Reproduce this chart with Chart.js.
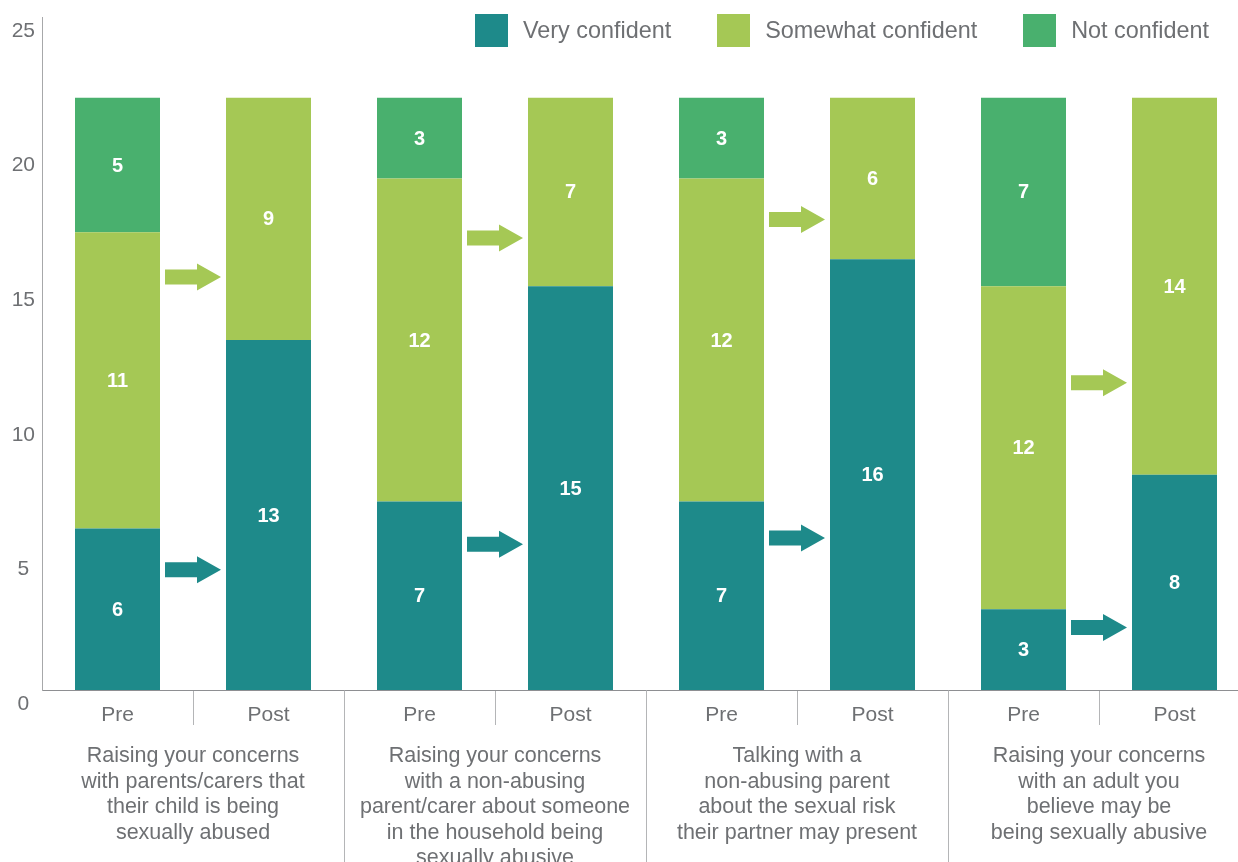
<!DOCTYPE html>
<html>
<head>
<meta charset="utf-8">
<script src="https://cdn.jsdelivr.net/npm/chart.js@4/dist/chart.umd.min.js"></script>
<style>
  html, body { margin: 0; padding: 0; background: #fff; overflow: hidden; }
  #wrap { position: relative; width: 1250px; height: 862px; }
  #legend {
    position: absolute; top: 14px; left: 475px;
    display: flex; align-items: center; white-space: nowrap;
    font-family: 'Liberation Sans', Arial, sans-serif; font-size: 23.4px; color: #6e7073;
  }
  .lg-item { display: flex; align-items: center; margin-right: 46px; flex: none; }
  .lg-box { width: 33px; height: 33px; margin-right: 15px; flex: none; }
</style>
</head>
<body>
<div id="wrap">
  <canvas id="chart" width="1250" height="862"></canvas>
  <div id="legend"></div>
</div>
<script>
// ---- data ----
const phases = ['Pre', 'Post', 'Pre', 'Post', 'Pre', 'Post', 'Pre', 'Post'];
const groupLabels = [
  ['Raising your concerns', 'with parents/carers that', 'their child is being', 'sexually abused'],
  ['Raising your concerns', 'with a non-abusing', 'parent/carer about someone', 'in the household being', 'sexually abusive'],
  ['Talking with a', 'non-abusing parent', 'about the sexual risk', 'their partner may present'],
  ['Raising your concerns', 'with an adult you', 'believe may be', 'being sexually abusive']
];
const veryConfident     = [6, 13, 7, 15, 7, 16, 3, 8];
const somewhatConfident = [11, 9, 12, 7, 12, 6, 12, 14];
const notConfident      = [5, 0, 3, 0, 3, 0, 7, 0];
const yTicks = [0, 5, 10, 15, 20, 25];

// arrow heights (value units) between Pre and Post of each group
const arrowVery     = [4.47, 5.41, 5.65, 2.32];
const arrowSomewhat = [15.34, 16.79, 17.48, 11.41];

const TEAL = '#1e8a8a';
const LIME = '#a5c855';
const GREEN = '#49b06e';
const TEXT = '#6e7073';
const FONT = "'Liberation Sans', Arial, sans-serif";

function drawArrow(ctx, cx, cy, color) {
  const len = 56, shaftH = 15, headL = 24, headH = 27;
  const x0 = cx - len / 2, x1 = cx + len / 2, xh = x1 - headL;
  ctx.fillStyle = color;
  ctx.beginPath();
  ctx.moveTo(x0, cy - shaftH / 2);
  ctx.lineTo(xh, cy - shaftH / 2);
  ctx.lineTo(xh, cy - headH / 2);
  ctx.lineTo(x1, cy);
  ctx.lineTo(xh, cy + headH / 2);
  ctx.lineTo(xh, cy + shaftH / 2);
  ctx.lineTo(x0, cy + shaftH / 2);
  ctx.closePath();
  ctx.fill();
}

const decorPlugin = {
  id: 'decor',
  afterDatasetsDraw(chart) {
    const ctx = chart.ctx;
    const xs = chart.scales.x, ys = chart.scales.y;
    const half = (xs.getPixelForValue(1) - xs.getPixelForValue(0)) / 2;
    const bottom = chart.chartArea.bottom;

    // value labels
    ctx.save();
    ctx.font = 'bold 20px ' + FONT;
    ctx.fillStyle = '#fff';
    ctx.textAlign = 'center';
    ctx.textBaseline = 'middle';
    chart.data.datasets.forEach((ds, di) => {
      const meta = chart.getDatasetMeta(di);
      meta.data.forEach((bar, i) => {
        const v = ds.data[i];
        if (!v) return;
        const p = bar.getProps(['x', 'y', 'base'], true);
        ctx.fillText(String(v), p.x, (p.y + p.base) / 2 + 1);
      });
    });

    // arrows
    groupLabels.forEach((g, gi) => {
      const cx = xs.getPixelForValue(gi * 2) + half;
      drawArrow(ctx, cx, ys.getPixelForValue(arrowVery[gi]), TEAL);
      drawArrow(ctx, cx, ys.getPixelForValue(arrowSomewhat[gi]), LIME);
    });

    // separators below axis
    ctx.strokeStyle = '#b4b5b7';
    ctx.lineWidth = 1;
    for (let i = 1; i < phases.length; i++) {
      const x = Math.round(xs.getPixelForValue(i) - half) + 0.5;
      const long = i % 2 === 0;
      ctx.beginPath();
      ctx.moveTo(x, bottom + 1);
      ctx.lineTo(x, long ? chart.height : bottom + 35);
      ctx.stroke();
    }

    // group labels
    ctx.font = '21.5px ' + FONT;
    ctx.fillStyle = TEXT;
    groupLabels.forEach((lines, gi) => {
      const cx = xs.getPixelForValue(gi * 2) + half;
      lines.forEach((line, li) => {
        ctx.fillText(line, cx, 756 + li * 25.6);
      });
    });
    ctx.restore();
  }
};

const chart = new Chart(document.getElementById('chart'), {
  type: 'bar',
  data: {
    labels: phases,
    datasets: [
      { label: 'Very confident', data: veryConfident, backgroundColor: TEAL },
      { label: 'Somewhat confident', data: somewhatConfident, backgroundColor: LIME },
      { label: 'Not confident', data: notConfident, backgroundColor: GREEN }
    ]
  },
  options: {
    responsive: false,
    animation: false,
    layout: { padding: { top: 17, left: 0, right: 0, bottom: 0 } },
    datasets: { bar: { categoryPercentage: 1, barPercentage: 85 / 151, borderWidth: 0 } },
    plugins: { legend: { display: false }, tooltip: { enabled: false } },
    scales: {
      x: {
        stacked: true,
        grid: { display: false },
        border: { display: true, color: '#8e8f92', width: 1 },
        ticks: { color: TEXT, padding: 5, font: { family: FONT, size: 21 } },
        afterFit: s => { s.height = 172; s.paddingLeft = 0; s.paddingRight = 0; }
      },
      y: {
        stacked: true,
        min: 0,
        max: 25,
        afterBuildTicks: s => { s.ticks = yTicks.map(v => ({ value: v })); },
        grid: { display: false, drawTicks: false },
        border: { display: true, color: '#a7a8aa', width: 1 },
        ticks: { color: TEXT, padding: 7, crossAlign: 'center', labelOffset: 14, font: { family: FONT, size: 21 } },
        afterFit: s => { s.width = 42; s.paddingTop = 0; s.paddingBottom = 0; }
      }
    }
  },
  plugins: [decorPlugin]
});

// html legend
document.getElementById('legend').innerHTML = chart.data.datasets.map(ds =>
  `<div class="lg-item"><div class="lg-box" style="background:${ds.backgroundColor}"></div><span>${ds.label}</span></div>`
).join('');
</script>
</body>
</html>
